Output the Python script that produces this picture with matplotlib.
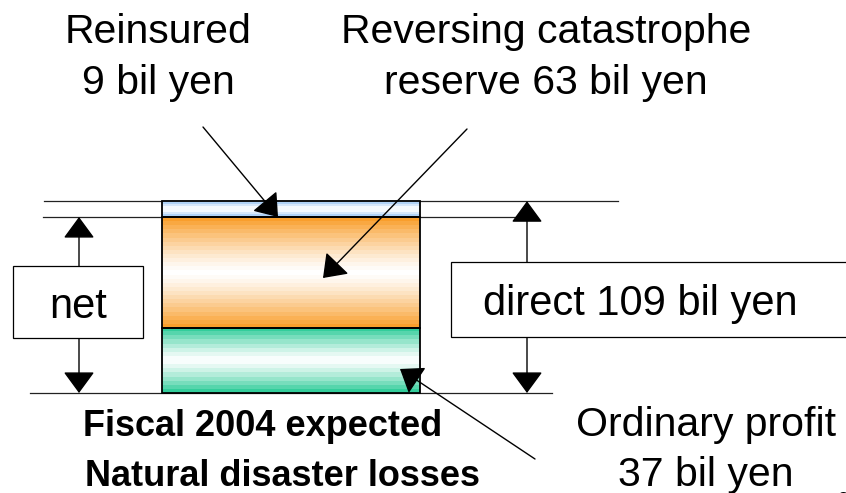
import numpy as np
import matplotlib.pyplot as plt
from matplotlib.patches import Rectangle
from matplotlib.colors import to_rgb

# stacked bar, bottom to top (bil yen)
segments = ["Ordinary profit", "Reversing catastrophe reserve", "Reinsured"]
values = [37, 63, 9]
colors = ["#22c993", "#f99a22", "#9cc6f4"]

net_total = values[0] + values[1]
direct_total = sum(values)

S = 1.76  # pixels per bil yen


def Y(py):
    # pixel row -> data value
    return (393 - py) / S


plt.rcParams["font.family"] = ["Liberation Sans", "DejaVu Sans"]

fig = plt.figure(figsize=(8.46, 4.93), dpi=100)
ax = fig.add_axes([0, 0, 1, 1])
ax.set_axis_off()

# bar with banded gradient fill
bar_x, bar_w = 291, 258
bottom = 0
for v, c in zip(values, colors):
    rect = ax.bar(bar_x, v, width=bar_w, bottom=bottom, facecolor="none",
                  edgecolor="black", lw=1.3, zorder=3)[0]
    n = max(6, int(v * S / 4))
    u = (np.arange(n) + 0.5) / n
    t = np.abs(2 * u - 1) ** 1.3
    rgb = np.array(to_rgb(c))
    grad = 1 - t[:, None] * (1 - rgb[None, :])
    im = ax.imshow(grad[:, None, :], extent=(bar_x - bar_w / 2, bar_x + bar_w / 2, bottom, bottom + v),
                   aspect="auto", interpolation="nearest", origin="lower", zorder=2)
    im.set_clip_path(rect)
    bottom += v

# guide lines
lc = "#222222"
ax.plot([44, 618], [direct_total, direct_total], color=lc, lw=0.9, zorder=1)
ax.plot([43, 520], [net_total, net_total], color=lc, lw=0.9, zorder=1)
ax.plot([30, 552], [0, 0], color=lc, lw=0.9, zorder=1)

head = "head_length=0.45,head_width=0.33"
ap = dict(color="black", lw=1.0, shrinkA=0, shrinkB=0, mutation_scale=30)

# double arrows
ax.annotate("", xy=(79, net_total), xytext=(79, 0),
            arrowprops=dict(arrowstyle="<|-|>," + head, **ap), zorder=4)
ax.annotate("", xy=(527, direct_total), xytext=(527, 0),
            arrowprops=dict(arrowstyle="<|-|>," + head, **ap), zorder=4)

# label boxes
ax.add_patch(Rectangle((13, Y(338)), 130, Y(266) - Y(338), facecolor="white",
                       edgecolor="black", lw=0.9, zorder=5))
ax.add_patch(Rectangle((451, Y(337)), 420, Y(262) - Y(337), facecolor="white",
                       edgecolor="black", lw=0.9, zorder=5, clip_on=False))
ax.text(78, Y(318), "net", ha="center", va="baseline", fontsize=30, zorder=6)
ax.text(640, Y(315), f"direct {direct_total} bil yen", ha="center", va="baseline",
        fontsize=30, zorder=6)

# callouts
ax.text(158, Y(43), "Reinsured", ha="center", va="baseline", fontsize=29.5)
ax.text(158, Y(94), f"{values[2]} bil yen", ha="center", va="baseline", fontsize=29.5)
ax.text(546, Y(43), "Reversing catastrophe", ha="center", va="baseline", fontsize=29.5)
ax.text(546, Y(94), f"reserve {values[1]} bil yen", ha="center", va="baseline", fontsize=29.5)
ax.text(706, Y(436), "Ordinary profit", ha="center", va="baseline", fontsize=29.5)
ax.text(706, Y(486), f"{values[0]} bil yen", ha="center", va="baseline", fontsize=29.5)

ax.text(83, Y(436), "Fiscal 2004 expected", ha="left", va="baseline",
        fontsize=26, fontweight="bold")
ax.text(85, Y(486), "Natural disaster losses", ha="left", va="baseline",
        fontsize=26, fontweight="bold")

one = "-|>," + head
ax.annotate("", xy=(278, net_total), xytext=(203, Y(127)),
            arrowprops=dict(arrowstyle=one, **ap), zorder=4)
ax.annotate("", xy=(323, Y(278)), xytext=(467, Y(129)),
            arrowprops=dict(arrowstyle=one, **ap), zorder=4)
ax.annotate("", xy=(400, Y(369)), xytext=(535, Y(459)),
            arrowprops=dict(arrowstyle=one, **ap), zorder=4)

# page number peeking at the corner
ax.text(838, Y(505), "2", fontsize=14, va="baseline")

ax.set_xlim(0, 846)
ax.set_ylim(Y(493), Y(0))

fig.savefig("out.png", dpi=100)
